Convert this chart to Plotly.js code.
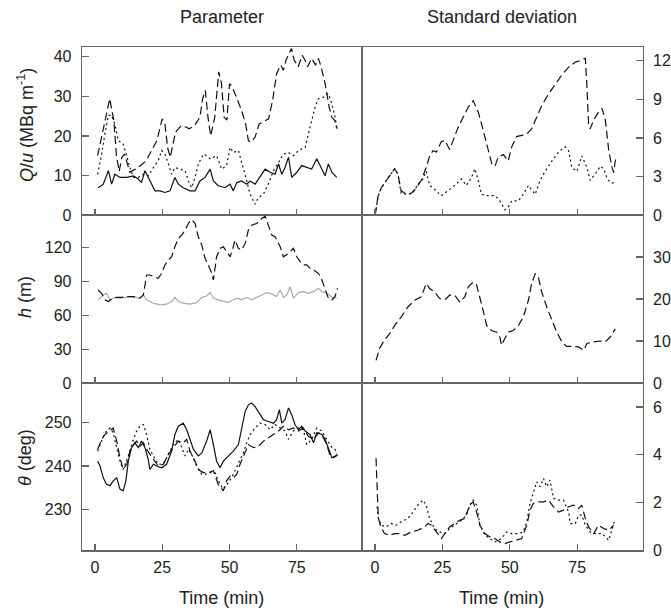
<!DOCTYPE html>
<html><head><meta charset="utf-8">
<script src="https://cdn.plot.ly/plotly-3.0.1.min.js"></script>
<style>html,body{margin:0;padding:0;background:#fff}#chart{width:671px;height:613px}</style>
</head><body><div id="chart"></div>
<script>
// ---------- Data (time in min) ----------
// Top-left: Q/u (MBq m-1)
const tQuSolid = [1.2,3.1,5.0,6.2,7.4,9.3,11.8,14.3,16.1,17.3,18.6,20.4,22.3,24.2,26.0,27.9,29.7,31.0,32.8,35.3,37.2,39.0,40.9,42.8,44.0,45.8,48.3,50.2,51.4,52.7,54.5,56.4,57.6,59.5,61.3,63.2,65.1,66.9,68.2,69.4,70.6,71.9,73.1,75.0,76.8,78.7,80.5,82.4,84.3,85.5,86.7,88.0,89.8];
const quSolid = [6.9,7.8,11.2,7.8,10.3,9.5,9.5,9.9,9.1,8.2,11.2,8.6,6.1,6.1,5.7,6.1,9.5,7.8,6.9,6.1,6.1,8.6,9.5,11.6,8.6,7.4,6.9,7.8,6.1,8.2,8.6,7.8,8.6,7.8,9.5,11.6,10.8,10.3,12.9,10.3,12.0,14.6,9.5,10.8,12.5,12.0,11.6,14.2,11.6,9.9,12.9,10.8,9.5];
const tQuDash = [1,2.5,4,5.5,7,8,9,10,11,13,15,17,19,20,23,25,26,27,28,29,30,32,34,35,37,39,40,41,42,43,44.5,46,47,48,49,50,51,53,54.5,56,57,58,59.5,61,62.5,64.5,66,67.5,69,70,71,73,74,75.5,77,78,79,80.5,82,83,84,85.5,87,88,89,90];
const quDash = [15,20,25,29.4,24,15,11,14.6,15.4,10.8,11.6,12.5,13.7,15,18.8,24.3,23,17,14.6,18,21,22.6,22.2,21.8,22.6,24.7,29.4,31.5,24.7,20,24.7,36.2,33.2,24.7,24,33.2,32.4,29,26.4,23,18.8,18.4,19.7,23,23.5,24.3,29,35.8,37.9,36.6,39.2,42.1,39.2,37.5,40.4,39.2,37.5,39.6,37.9,39.6,37.5,33.2,27.3,24.7,24,21.8];
const tQuDot = [1.0,2.5,3.7,5.0,6.2,7.4,8.7,10.5,11.8,13.0,14.3,16.1,18.0,19.8,21.7,23.5,24.8,26.0,27.3,28.5,29.7,31.6,33.5,34.7,35.9,37.2,38.4,40.3,41.5,42.8,45.2,47.1,48.9,50.2,51.4,53.3,55.1,56.4,57.6,59.5,60.7,62.6,64.4,66.3,68.2,70.0,71.9,73.7,75.6,78.1,79.9,81.8,83.0,84.9,86.7,88.0,89.2,89.8];
const quDot = [10.3,15.4,20.5,25.2,25.2,23,18.8,18,15,12,9.5,9.5,10.3,9.9,12,13.7,16.3,15.4,12.9,10.3,12,11.6,11.2,8.6,6.9,9.5,12.9,15.4,15,14.2,15,11.6,12.5,17.1,15.8,16.3,12,8.6,5.3,2.7,4.4,5.3,7.8,11.2,13.3,15.4,15.8,15,16.3,17.1,22.2,27.3,29.4,29.8,30.7,28.1,24.7,21.8];

// Top-right: SD of Q/u
const tQuSdDash = [0.1,1.1,2.3,4.2,6.0,7.3,8.5,9.7,11.6,13.5,15.3,17.2,19.0,20.3,21.5,22.8,24.6,25.9,27.7,29.0,30.8,32.7,34.6,36.4,38.3,39.5,40.8,42.0,43.3,44.5,45.7,47.6,49.4,50.7,52.5,54.4,56.3,58.1,60.0,61.8,64.3,66.8,69.3,71.8,74.3,76.7,78.0,78.6,79.2,79.8,81.1,82.9,84.2,85.4,86.7,87.9,88.5,89.1,89.8];
const quSdDash = [0,1.4,2.1,2.7,3.2,3.6,3.2,1.9,1.6,1.7,2.1,2.7,3.7,4.6,5.0,4.9,5.7,5.8,5.1,5.8,6.8,7.6,8.4,8.9,8.0,7.1,6.1,5.0,4.0,3.8,4.5,4.7,4.2,5.3,6.1,6.2,6.3,6.7,7.6,8.5,9.4,10.2,10.9,11.5,11.9,12.05,12.2,10,7.1,6.7,7.4,8.0,8.3,7.4,5.0,3.7,3.3,4.2,4.6];
const tQuSdDot = [0.1,1.1,2.3,4.2,6.0,7.3,8.5,9.7,12.2,14.1,15.9,17.8,19.0,20.3,22.1,24.6,27.1,29.6,32.1,33.9,35.8,37.0,38.3,39.5,42.0,44.5,46.3,48.2,49.4,50.7,53.2,55.0,56.9,59.4,61.2,63.1,65.6,68.1,70.5,71.8,73.0,74.9,76.7,78.6,79.8,81.7,83.6,84.8,86.0,87.3,89.1];
const quSdDot = [0,1.4,2.1,2.7,3.2,3.6,3.2,1.7,1.6,1.7,2.4,2.8,3.4,2.3,2.0,1.5,1.9,2.3,2.8,2.3,2.9,3.6,2.7,1.6,1.5,1.5,1.1,0.4,0.6,1.1,1.1,1.6,2.3,1.6,2.7,3.4,4.2,4.9,5.3,5.0,3.7,3.4,4.6,3.7,2.7,3.2,3.8,3.6,2.9,2.5,2.5];

// Middle-left: h (m)
const tHDash = [1.2,2.5,3.7,5.0,6.2,8.1,9.9,11.8,14.3,16.7,18.0,19.2,20.4,21.7,23.5,24.8,26.0,27.3,28.5,29.7,31.0,32.2,33.5,34.7,35.9,37.2,38.4,39.7,40.9,42.1,43.4,44.0,45.2,46.5,47.7,48.9,50.2,51.4,52.0,53.3,54.5,55.8,57.0,58.2,60.1,62.0,63.2,64.4,65.7,66.9,68.8,70.0,71.9,73.7,75.0,76.2,77.4,78.7,79.9,81.2,83.0,84.3,85.5,86.7,88.0,89.2,90.1];
const hDash = [82.5,79.6,73.7,72.2,74.3,76,76,76.7,76.7,75.2,78.1,95.8,95.8,94.3,92.9,97.3,104.7,109,112,120.9,128.2,131.2,135.6,141.5,145,141.5,129.7,122.3,110.6,104.7,97.3,91.4,112,119.4,120.9,116.5,112,120.9,126.8,119.4,117.9,123.8,135.6,140,141.5,145.9,148,140,131.2,129.7,120.9,112,115,119.4,112,107.6,104.7,104.7,101.7,100.2,97.3,91.4,82.5,75.2,73.7,76.7,84];
const tHGrey = [1.2,3.1,4.3,5.6,7.4,9.3,11.8,14.9,16.7,18.0,19.2,21.7,24.2,26.6,28.5,29.7,31.0,32.8,35.3,37.8,39.7,41.5,42.8,44.0,45.8,47.7,49.6,50.8,52.7,54.5,56.4,58.2,60.1,62.0,63.8,65.7,67.5,68.8,70.0,71.3,72.5,73.7,75.6,77.4,79.3,81.2,83.0,84.3,86.1,88.0,89.8];
const hGrey = [73.7,78.1,79.6,73.7,76,75.2,76,76,75.2,78.1,73.7,70.8,69.3,69.9,72.2,76,72.2,70.8,69.9,71.3,76,77.2,80.2,75.2,73.7,72.8,71.3,73.1,75.2,73.7,76,73.7,76,78.1,80.2,79,76.7,82.5,76,78.1,85.5,75.2,80.2,81,79.6,81,84,81,79.6,76,75.2];

// Middle-right: SD of h
const tHSdDash = [0.4,1.7,3.5,5.4,7.3,9.7,12.2,14.7,17.2,19.0,20.3,22.1,24.0,25.9,27.7,29.6,31.4,33.3,34.6,36.4,37.7,38.9,40.1,41.4,43.2,45.1,46.3,46.9,48.2,49.4,51.3,53.2,55.0,56.9,58.1,59.4,60.6,61.8,63.7,65.6,67.4,69.3,71.1,73.6,75.5,77.4,78.6,81.1,83.6,85.4,87.3,89.1];
const hSdDash = [5.4,8.2,10.2,11.7,13.7,15.7,18.1,19.7,20.5,23.7,22.5,21.7,20.1,19.8,20.9,20.9,19.3,20.5,22.9,24.0,23.3,20.5,17.3,13.7,12.5,12.1,11,9,10.6,12.1,12.5,13.7,15.7,19.7,23.7,26,25.2,21.7,18.1,14.9,12.1,9.8,8.7,8.7,8.6,7.8,9.4,9.8,10,9.8,11,12.9];

// Bottom-left: theta (deg)
const tThSolid = [1.0,1.9,3.1,4.3,5.6,6.8,8.1,9.3,10.5,11.5,12.4,13.6,14.9,16.1,17.3,18.6,19.8,20.4,21.7,22.9,24.8,26.6,28.5,29.7,31.0,32.8,34.1,35.3,36.6,38.4,39.7,41.5,42.8,44.0,45.2,46.5,47.7,49.6,51.4,53.3,54.5,55.8,57.0,58.2,59.5,60.7,62.6,64.4,66.3,67.5,68.5,69.4,70.6,71.9,73.1,74.3,75.6,76.8,78.1,79.9,81.2,82.4,84.3,85.5,86.7,88.0,89.2,90.1];
const thSolid = [241.1,240,237.3,235.8,235.5,236.6,237.3,234.7,234.3,236.6,241.1,244.2,245.3,244.2,245.7,244.2,241.5,239.2,240.4,240,239.6,240.4,243.4,247.2,249.1,249.8,248.3,246.1,243.8,242.3,243,245.7,248.3,244.9,241.1,239.6,241.1,242.3,243.4,244.9,248.7,252.5,254,254.4,253.6,252.5,250.6,250.2,249.8,250.6,252.9,249.8,250.6,253.3,251.7,249.5,248.3,249.1,248,247.2,245.3,247.6,247.2,246.1,244.2,241.9,242.3,242.5];
const tThDash = [1.0,2.5,3.7,5.6,6.8,8.1,9.3,10.5,11.8,13.0,14.3,15.5,16.7,18.0,19.2,20.4,21.7,23.5,25.4,27.3,29.1,31.0,32.8,34.1,35.3,37.2,38.4,40.3,42.1,44.0,45.8,47.7,48.9,50.2,51.4,52.7,53.9,55.8,57.0,58.9,60.7,62.6,64.4,66.3,68.2,70.0,71.9,73.7,75.6,77.4,79.3,81.2,83.0,84.3,86.1,87.4,88.6,90.1];
const thDash = [243.8,246.1,247.2,248,248.7,245.7,241.9,239.2,240.4,243.4,244.9,245.7,244.5,245.3,243.8,242.7,241.5,240,240.4,242.7,244.2,245.7,245.3,246.1,243.4,241.1,239.2,238.5,238.5,238.9,235.8,234.3,236.6,237.7,237.3,238.1,240.4,243.4,244.9,244.2,244.5,245.7,246.4,247.2,248,249.1,248.3,248.7,248,248.7,246.8,246.1,247.6,247.2,244.9,242.3,241.9,242.5];
const tThDot = [1.0,2.5,3.7,5.6,6.8,8.1,9.3,10.5,12.4,14.3,15.5,16.7,18.0,19.2,20.4,21.7,23.5,25.4,27.3,29.1,31.0,32.2,33.5,34.7,35.9,37.8,39.7,40.9,42.8,44.6,45.8,47.7,49.6,51.4,53.3,55.1,56.4,57.6,59.5,61.3,63.2,65.1,66.9,68.8,70.6,71.9,73.7,75.6,77.4,78.7,80.5,82.4,84.3,86.1,88.0,89.2,89.8];
const thDot = [243.4,245.7,247.6,248.7,247.6,244.2,241.1,239.2,242.3,246.1,248,249.1,249.5,247.2,243.8,242.3,240.4,240.4,242.7,244.9,246.1,244.2,242.3,243.8,242.7,240,238.1,238.1,238.5,238.5,236.6,234.7,236.2,238.1,240.8,243,245.3,247.2,248.7,249.8,249.5,248.3,249.5,248.7,248,246.1,248,248.7,248.3,244.9,246.1,248.7,248,246.1,244.2,243.8,242.7];

// Bottom-right: SD of theta
const tThSdDash = [0.4,0.8,1.05,1.3,2.0,3.5,5.4,7.3,9.1,11.0,13.5,15.9,18.4,19.7,20.9,22.8,24.6,25.9,27.7,29.6,31.4,33.3,35.2,36.4,37.7,38.9,40.8,42.6,44.5,46.3,48.2,50.1,51.9,54.4,56.3,57.5,58.7,60.6,62.5,64.3,66.2,68.1,69.9,71.8,73.6,75.5,76.7,78.0,79.2,81.1,82.9,84.8,86.7,88.5];
const thSdDash = [3.85,3.0,1.9,1.33,1.05,0.7,0.63,0.7,0.7,0.63,0.77,0.84,0.98,1.12,1.05,0.77,0.49,0.7,0.98,1.12,1.26,1.33,1.89,2.03,1.6,1.05,0.7,0.56,0.49,0.35,0.28,0.35,0.42,0.49,1.05,1.68,1.96,2.03,2.03,2.1,1.82,1.6,1.68,1.82,1.89,1.75,1.89,1.33,0.98,0.7,1.05,0.91,0.84,1.05];
const tThSdDot = [0.8,1.3,2.3,4.2,6.0,7.9,9.7,12.2,14.1,15.9,17.8,19.0,20.3,22.1,24.0,25.9,27.7,29.6,32.1,33.9,35.2,36.4,37.7,38.9,40.8,42.6,44.5,46.9,48.8,50.7,53.2,55.0,56.3,57.5,58.7,60.0,61.2,62.5,63.7,64.9,66.2,68.1,69.9,71.8,72.4,74.3,75.5,76.7,78.0,79.8,81.7,84.2,86.7,87.9,88.9];
const thSdDot = [1.82,1.33,1.05,0.98,1.12,1.05,1.19,1.33,1.6,1.89,2.1,1.89,1.33,0.91,0.77,0.7,0.91,1.05,1.26,1.47,1.89,2.1,1.89,1.05,0.63,0.49,0.35,0.49,0.77,0.7,0.7,0.77,1.19,1.96,2.45,2.87,2.66,3.0,2.66,2.94,2.17,2.1,2.1,1.6,1.12,1.12,1.47,1.47,1.05,0.77,0.7,0.7,0.42,0.91,1.26];

// Tick labels
const xTicks = [0,25,50,75];
const yTicksQu = [0,10,20,30,40], yTicksQuSd = [0,3,6,9,12];
const yTicksH = [0,30,60,90,120], yTicksHSd = [0,10,20,30];
const yTicksTh = [230,240,250], yTicksThSd = [0,2,4,6];

// ---------- Styles ----------
const DASH = '8px,4px', DOT = '2px,3px';
function tr(x, y, ax, style, color) {
  return {x: x, y: y, xaxis: 'x' + ax, yaxis: 'y' + ax, type: 'scatter', mode: 'lines',
    line: {color: color || '#111', width: 1.2, dash: style}, hoverinfo: 'skip'};
}
const data = [
  tr(tQuSolid, quSolid, '', 'solid'), tr(tQuDash, quDash, '', DASH), tr(tQuDot, quDot, '', DOT),
  tr(tQuSdDash, quSdDash, '2', DASH), tr(tQuSdDot, quSdDot, '2', DOT),
  tr(tHGrey, hGrey, '3', 'solid', '#aaaaaa'), tr(tHDash, hDash, '3', DASH),
  tr(tHSdDash, hSdDash, '4', DASH),
  tr(tThSolid, thSolid, '5', 'solid'), tr(tThDash, thDash, '5', DASH), tr(tThDot, thDot, '5', DOT),
  tr(tThSdDash, thSdDash, '6', DASH), tr(tThSdDot, thSdDot, '6', DOT)
];

const W = 671, H = 613;
const xL = [82/W, 362/W], xR = [362/W, 642.5/W];
const rT = [1-215/H, 1-47.3/H], rM = [1-383/H, 1-215/H], rB = [1-550.3/H, 1-383/H];
const LC = '#666', FONT = 'Arial, "Liberation Sans", sans-serif', TC = '#222';
function xa(dom, anchor, labels) {
  return {domain: dom, anchor: anchor, range: [-4.8, 99.2], tickvals: xTicks, ticktext: xTicks.map(String),
    ticks: 'inside', ticklen: 6, tickcolor: LC, tickwidth: 1.2, showline: true, linecolor: LC, linewidth: 1.3,
    mirror: true, showgrid: false, zeroline: false, showticklabels: labels, ticklabelstandoff: 2,
    tickfont: {family: FONT, size: 16, color: TC}, fixedrange: true};
}
function ya(dom, anchor, range, ticks, side) {
  return {domain: dom, anchor: anchor, range: range, tickvals: ticks, ticktext: ticks.map(String), side: side,
    ticks: 'inside', ticklen: 7, tickcolor: LC, tickwidth: 1.2, showline: true, linecolor: LC, linewidth: 1.3,
    mirror: true, showgrid: false, zeroline: false, ticklabelstandoff: 6,
    tickfont: {family: FONT, size: 16, color: TC}, fixedrange: true};
}
const ann = (text, x, y, extra) => Object.assign({text: text, x: x, y: y, xref: 'paper', yref: 'paper',
  showarrow: false, xanchor: 'center', yanchor: 'middle', font: {family: FONT, size: 18, color: TC}}, extra || {});

const layout = {
  width: W, height: H, margin: {l: 0, r: 0, t: 0, b: 0}, showlegend: false,
  paper_bgcolor: '#fff', plot_bgcolor: '#fff',
  xaxis: xa(xL, 'y', false), yaxis: ya(rT, 'x', [0, 42.4], yTicksQu, 'left'),
  xaxis2: xa(xR, 'y2', false), yaxis2: ya(rT, 'x2', [0, 13.05], yTicksQuSd, 'right'),
  xaxis3: xa(xL, 'y3', false), yaxis3: ya(rM, 'x3', [0, 149], yTicksH, 'left'),
  xaxis4: xa(xR, 'y4', false), yaxis4: ya(rM, 'x4', [0, 40], yTicksHSd, 'right'),
  xaxis5: xa(xL, 'y5', true), yaxis5: ya(rB, 'x5', [220.7, 259], yTicksTh, 'left'),
  xaxis6: xa(xR, 'y6', true), yaxis6: ya(rB, 'x6', [0, 7], yTicksThSd, 'right'),
  annotations: [
    ann('Parameter', 222/W, 1-17/H),
    ann('Standard deviation', 502/W, 1-17/H),
    ann('Time (min)', 222/W, 1-598/H),
    ann('Time (min)', 502/W, 1-598/H),
    ann('<i>Q</i>/<i>u</i> (MBq m<sup>-1</sup>)', 25/W, 1-125/H, {textangle: -90}),
    ann('<i>h</i> (m)', 25/W, 1-297/H, {textangle: -90}),
    ann('<i>θ</i> (deg)', 25/W, 1-458/H, {textangle: -90})
  ]
};
Plotly.newPlot('chart', data, layout, {displayModeBar: false, staticPlot: true});
</script></body></html>
